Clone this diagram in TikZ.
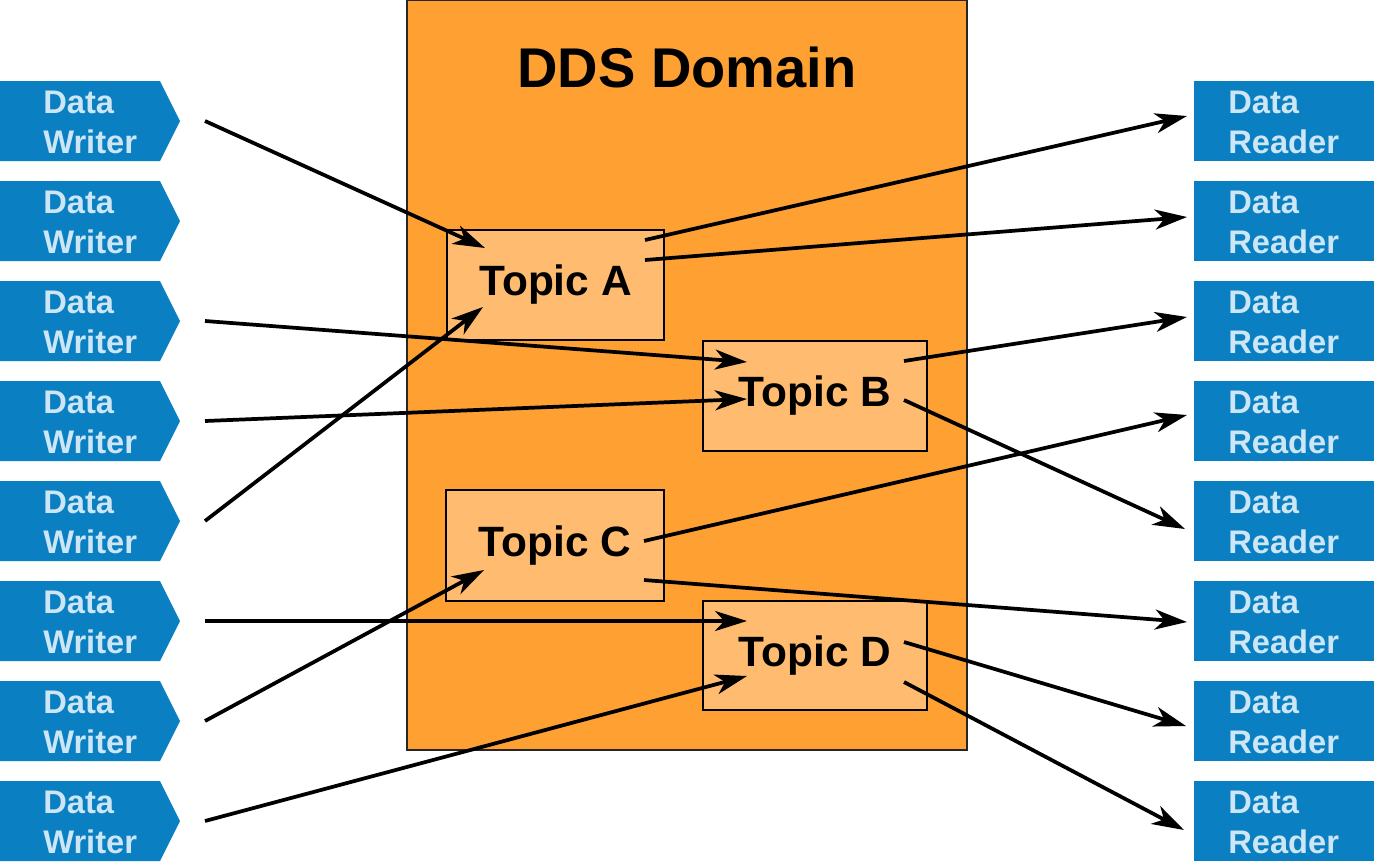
\documentclass[tikz,border=0pt]{standalone}
\usepackage{fontspec}
\setmainfont{Liberation Sans}
\usetikzlibrary{arrows.meta}
\definecolor{wblue}{HTML}{0A7FC2}
\definecolor{wtext}{HTML}{CCE6F5}
\definecolor{domorange}{HTML}{FFA033}
\definecolor{topicfill}{HTML}{FFBC70}
\tikzset{
 conn/.style={line width=2.8pt, -{Stealth[length=24pt,width=15pt,inset=7pt]}},
 wtxt/.style={text=wtext, font=\fontsize{24.5}{30}\selectfont\bfseries, align=left, inner sep=0pt},
 topicbox/.style={draw=black, line width=1.6pt, fill=topicfill, font=\fontsize{31.8}{36}\selectfont\bfseries, inner sep=0pt, outer sep=0pt},
 readerbox/.style={fill=wblue, minimum width=135pt, minimum height=60pt, inner sep=0pt, outer sep=0pt},
 domainbox/.style={draw=black!85, line width=1.2pt, fill=domorange, minimum width=420pt, minimum height=562.5pt, inner sep=0pt, outer sep=0pt},
 titletext/.style={font=\fontsize{42}{50}\selectfont\bfseries, inner sep=0pt},
}
\begin{document}
\begin{tikzpicture}[x=0.75pt,y=-0.75pt]
\useasboundingbox (0,0) rectangle (1374,861);
% domain
\node[domainbox, anchor=north west] (dom) at (407,0) {};
\node[titletext, anchor=base] (title) at (687,87) {DDS Domain};
% topics
\node[topicbox, minimum width=162.75pt, minimum height=82.5pt] (A) at (555.5,285) {Topic A};
\node[topicbox, minimum width=168pt, minimum height=82.5pt] (B) at (815,396) {Topic B};
\node[topicbox, minimum width=163.5pt, minimum height=83.25pt] (C) at (555,545.5) {Topic C};
\node[topicbox, minimum width=168pt, minimum height=81.75pt] (D) at (815,655.5) {Topic D};
% writers and readers
\foreach \i in {1,...,8}{
  \pgfmathsetmacro\yt{81+100*(\i-1)}
  \fill[wblue] (0,\yt) -- (160,\yt) -- (180,\yt+40) -- (160,\yt+80) -- (0,\yt+80) -- cycle;
  \node[wtxt, anchor=west] (w\i) at (43,\yt+41) {Data\\Writer};
  \node[readerbox, anchor=north west] (r\i) at (1194,\yt) {};
  \node[wtxt, anchor=west] (rt\i) at (1228,\yt+41) {Data\\Reader};
}
% writers -> topics
\draw[conn] ([shift={(162,-1)}]w1.west) -- ([shift={(-70.5,-37)}]A.center);
\draw[conn] ([shift={(162,-1)}]w3.west) -- ([shift={(-68,-34)}]B.center);
\draw[conn] ([shift={(162,-1)}]w4.west) -- ([shift={(-68,3)}]B.center);
\draw[conn] ([shift={(162,-1)}]w5.west) -- ([shift={(-72.5,22)}]A.center);
\draw[conn] ([shift={(162,-1)}]w6.west) -- ([shift={(-68,-34.5)}]D.center);
\draw[conn] ([shift={(162,-1)}]w7.west) -- ([shift={(-71,24.5)}]C.center);
\draw[conn] ([shift={(162,-1)}]w8.west) -- ([shift={(-68,20.5)}]D.center);
% topics -> readers
\draw[conn] ([shift={(89.5,-45)}]A.center) -- ([shift={(-7,-5)}]r1.west);
\draw[conn] ([shift={(89.5,-25)}]A.center) -- ([shift={(-7,-4)}]r2.west);
\draw[conn] ([shift={(89,-35)}]B.center) -- ([shift={(-7,-4)}]r3.west);
\draw[conn] ([shift={(89,4)}]B.center) -- ([shift={(-9,8)}]r5.west);
\draw[conn] ([shift={(89,-4.5)}]C.center) -- ([shift={(-7,-6)}]r4.west);
\draw[conn] ([shift={(89,34.5)}]C.center) -- ([shift={(-7,1)}]r6.west);
\draw[conn] ([shift={(89,-13.5)}]D.center) -- ([shift={(-8,5)}]r7.west);
\draw[conn] ([shift={(89,26.5)}]D.center) -- ([shift={(-10,9)}]r8.west);
\end{tikzpicture}
\end{document}
